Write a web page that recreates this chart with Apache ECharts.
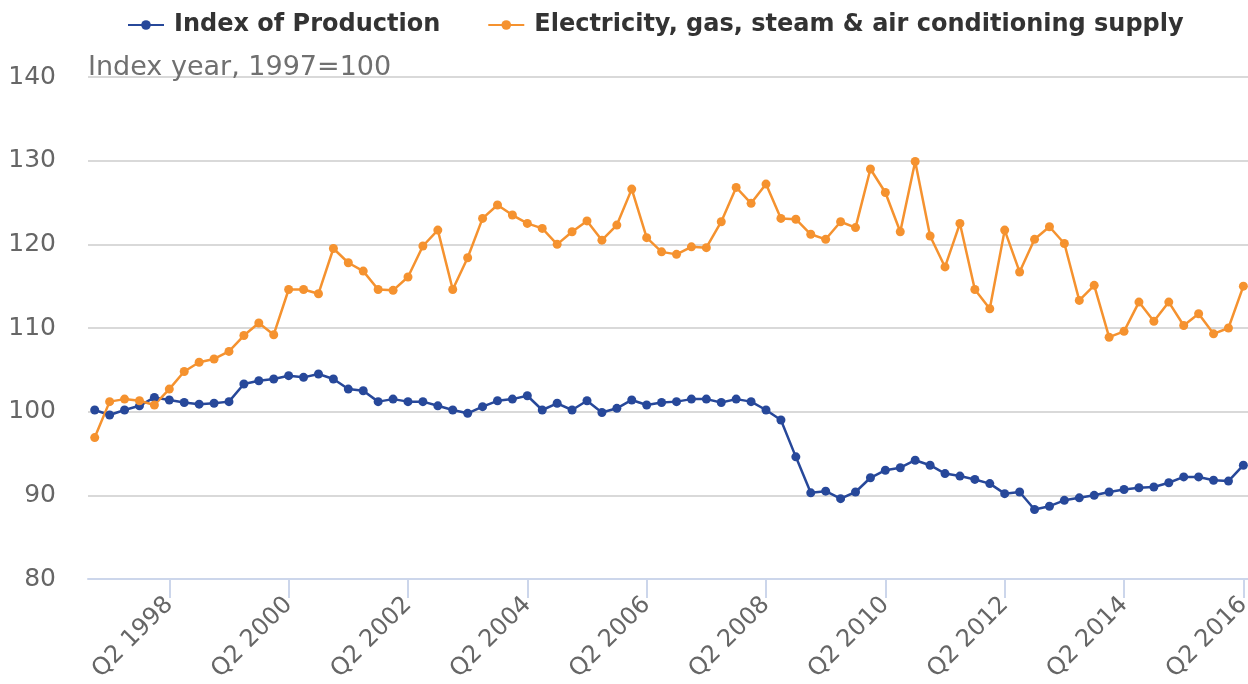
<!DOCTYPE html>
<html>
<head>
<meta charset="utf-8">
<script src="https://cdn.jsdelivr.net/npm/echarts@6/dist/echarts.min.js"></script>
<style>
  html, body { margin: 0; padding: 0; background: #fff; }
  #chart { width: 1248px; height: 684px; }
</style>
</head>
<body>
<div id="chart"></div>
<script>
// quarters Q1 1997 .. Q2 2016
var quarters = []
for (var y = 1997; y <= 2016; y++) {
  for (var q = 1; q <= 4; q++) {
    if (y === 2016 && q > 2) break
    quarters.push('Q' + q + ' ' + y)
  }
}

var tickLabels = ['Q2 1998', 'Q2 2000', 'Q2 2002', 'Q2 2004', 'Q2 2006',
  'Q2 2008', 'Q2 2010', 'Q2 2012', 'Q2 2014', 'Q2 2016']

var yTicks = [80, 90, 100, 110, 120, 130, 140]

// Index of Production (1997=100)
var production = [
  100.2, 99.6, 100.2, 100.7, 101.7, 101.4, 101.1, 100.9, 101.0, 101.2,
  103.3, 103.7, 103.9, 104.3, 104.1, 104.5, 103.9, 102.7, 102.5, 101.2,
  101.5, 101.2, 101.2, 100.7, 100.2, 99.8, 100.6, 101.3, 101.5, 101.9,
  100.2, 101.0, 100.2, 101.3, 99.9, 100.4, 101.4, 100.8, 101.1, 101.2,
  101.5, 101.5, 101.1, 101.5, 101.2, 100.2, 99.0, 94.6, 90.3, 90.5,
  89.6, 90.4, 92.1, 93.0, 93.3, 94.2, 93.6, 92.6, 92.3, 91.9,
  91.4, 90.2, 90.4, 88.3, 88.7, 89.4, 89.7, 90.0, 90.4, 90.7,
  90.9, 91.0, 91.5, 92.2, 92.2, 91.8, 91.7, 93.6
]

// Electricity, gas, steam & air conditioning supply
var electricity = [
  96.9, 101.2, 101.5, 101.3, 100.8, 102.7, 104.8, 105.9, 106.3, 107.2,
  109.1, 110.6, 109.2, 114.6, 114.6, 114.1, 119.5, 117.8, 116.8, 114.6,
  114.5, 116.1, 119.8, 121.7, 114.6, 118.4, 123.1, 124.7, 123.5, 122.5,
  121.9, 120.0, 121.5, 122.8, 120.5, 122.3, 126.6, 120.8, 119.1, 118.8,
  119.7, 119.6, 122.7, 126.8, 124.9, 127.2, 123.1, 123.0, 121.2, 120.6,
  122.7, 122.0, 129.0, 126.2, 121.5, 129.9, 121.0, 117.3, 122.5, 114.6,
  112.3, 121.7, 116.7, 120.6, 122.1, 120.1, 113.3, 115.1, 108.9, 109.6,
  113.1, 110.8, 113.1, 110.3, 111.7, 109.3, 110.0, 115.0
]

var tickIdx = tickLabels.map(function (t) { return quarters.indexOf(t) })

function pairs (arr) {
  return arr.map(function (v, i) { return [i, v] })
}

var chart = echarts.init(document.getElementById('chart'))
var font = 'DejaVu Sans'

chart.setOption({
  animation: false,
  title: {
    text: 'Index year, 1997=100',
    left: 83,
    top: 49,
    textStyle: { fontFamily: font, fontSize: 27, fontWeight: 'normal', color: '#707070' }
  },
  legend: {
    top: 8,
    left: 122,
    itemWidth: 36,
    itemHeight: 12,
    itemGap: 47,
    textStyle: { fontFamily: font, fontSize: 24, fontWeight: 'bold', color: '#333', padding: [0, 0, 0, 5] }
  },
  grid: { left: 88, right: 0, top: 77, bottom: 105, outerBoundsMode: 'none', containLabel: false },
  xAxis: {
    type: 'value',
    min: -0.45,
    max: 77.31,
    axisLine: { show: true, lineStyle: { color: '#ccd6eb', width: 2 } },
    axisTick: { show: true, length: 19, customValues: tickIdx, lineStyle: { color: '#ccd6eb', width: 2 } },
    axisLabel: {
      customValues: tickIdx,
      rotate: 45,
      margin: 22,
      fontFamily: font,
      fontSize: 24,
      color: '#666',
      formatter: function (v) { return quarters[Math.round(v)] }
    },
    splitLine: { show: false }
  },
  yAxis: {
    type: 'value',
    min: yTicks[0],
    max: yTicks[yTicks.length - 1],
    interval: 10,
    axisLine: { show: false },
    axisTick: { show: false },
    axisLabel: { fontFamily: font, fontSize: 25, color: '#666', margin: 32 },
    splitLine: { lineStyle: { color: '#d9d9d9', width: 2 } }
  },
  series: [
    {
      name: 'Index of Production',
      type: 'line',
      data: pairs(production),
      symbol: 'circle',
      symbolSize: 9,
      color: '#27489a',
      lineStyle: { width: 2.5 }
    },
    {
      name: 'Electricity, gas, steam & air conditioning supply',
      type: 'line',
      data: pairs(electricity),
      symbol: 'circle',
      symbolSize: 9,
      color: '#f5922f',
      lineStyle: { width: 2.5 }
    }
  ]
})
</script>
</body>
</html>
